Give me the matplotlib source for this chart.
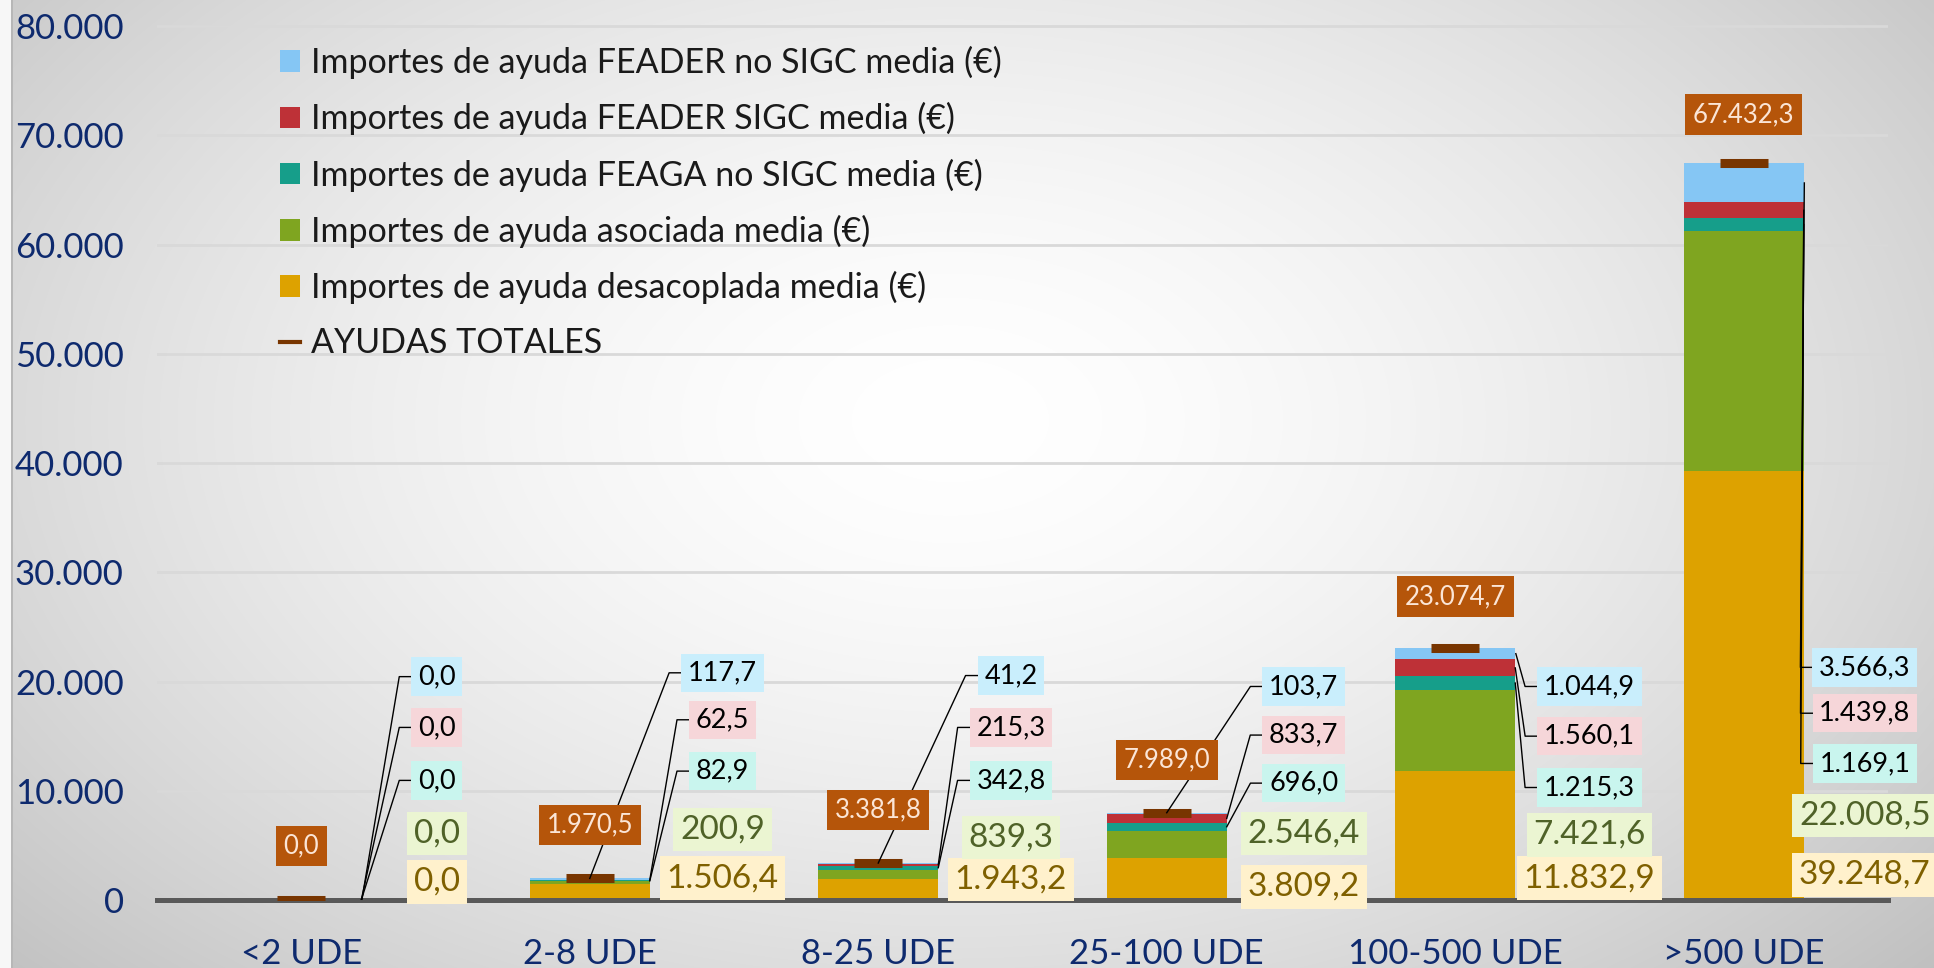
import numpy as np
import matplotlib.pyplot as plt
from matplotlib.patches import Patch
from matplotlib.lines import Line2D

plt.rcParams['font.family'] = ['Lato', 'DejaVu Sans']

categorias = ['<2 UDE', '2-8 UDE', '8-25 UDE', '25-100 UDE', '100-500 UDE', '>500 UDE']
desacoplada = [0.0, 1506.4, 1943.2, 3809.2, 11832.9, 39248.7]
asociada = [0.0, 200.9, 839.3, 2546.4, 7421.6, 22008.5]
feaga_no_sigc = [0.0, 82.9, 342.8, 696.0, 1215.3, 1169.1]
feader_sigc = [0.0, 62.5, 215.3, 833.7, 1560.1, 1439.8]
feader_no_sigc = [0.0, 117.7, 41.2, 103.7, 1044.9, 3566.3]
totales = [0.0, 1970.5, 3381.8, 7989.0, 23074.7, 67432.3]

# label placement (moved by hand in the original sheet)
lab_dx = [0.47, 0.46, 0.46, 0.475, 0.465, 0.42]
lab_y = {
    'no_sigc': [20450, 20800, 20550, 19550, 19550, 21300],
    'sigc': [15800, 16500, 15800, 15100, 15000, 17100],
    'feaga': [10950, 11800, 10950, 10700, 10300, 12500],
    'asoc': [6100, 6450, 5750, 6100, 5950, 7750],
    'desac': [1650, 2000, 1900, 1200, 2000, 2300],
}
tot_y = [4950, 6850, 8250, 12800, 27800, 71900]
blue_anchor_dx = [0.21, 0.0, 0.0, 0.0, 0.21, 0.21]

W, H = 1934, 968
BAR_W = 0.416


def es(v):
    s = "{:,.1f}".format(v)
    return s.replace(',', 'X').replace('.', ',').replace('X', '.')


fig = plt.figure(figsize=(W / 100, H / 100), dpi=100)

# background gradient
bg = fig.add_axes([0, 0, 1, 1], zorder=0)
yy, xx = np.mgrid[0:H, 0:W]
r = np.sqrt(((xx - 950) / 1150.0) ** 2 + ((yy - 420) / 720.0) ** 2)
g = 1 - 0.2 * np.clip(r, 0, 1.3) ** 1.6
g[:, :11] = 0.97
g[:, 11:13] = 0.72
bg.imshow(np.dstack([g, g, g]), aspect='auto', extent=[0, 1, 0, 1])
bg.axis('off')

ax = fig.add_axes([157 / W, 68 / H, (1888 - 157) / W, 900 / H], zorder=1)
ax.patch.set_alpha(0)

x = np.arange(len(categorias))
series = [
    ('desac', 'Importes de ayuda desacoplada media (€)', desacoplada, '#DDA200', '#FFF1CC', '#7F6000', 24, 0.2),
    ('asoc', 'Importes de ayuda asociada media (€)', asociada, '#7FA520', '#EBF5D2', '#4F6228', 24, 0.2),
    ('feaga', 'Importes de ayuda FEAGA no SIGC media (€)', feaga_no_sigc, '#169E8A', '#C9F5EE', '#000000', 19.5, 0.25),
    ('sigc', 'Importes de ayuda FEADER SIGC media (€)', feader_sigc, '#BE3137', '#F6D6D9', '#000000', 19.5, 0.25),
    ('no_sigc', 'Importes de ayuda FEADER no SIGC media (€)', feader_no_sigc, '#85C6F4', '#C9EEFC', '#000000', 19.5, 0.25),
]

bottom = np.zeros(len(x))
mids = {}
for key, name, vals, col, bcol, tcol, fs, pad in series:
    vals = np.array(vals)
    ax.bar(x, vals, BAR_W, bottom=bottom, color=col, linewidth=0, zorder=2)
    mids[key] = bottom + vals / 2
    bottom = bottom + vals

ax.plot(x, totales, linestyle='none', marker='_', ms=34, mew=6.5, color='#783500', zorder=4)

labels = []
for key, name, vals, col, bcol, tcol, fs, pad in series:
    for i, v in enumerate(vals):
        t = ax.text(x[i] + lab_dx[i], lab_y[key][i], es(v), ha='center', va='center',
                    fontsize=fs, color=tcol, zorder=6,
                    bbox=dict(boxstyle='square,pad=%s' % pad, fc=bcol, ec='none'))
        if key in ('no_sigc', 'sigc', 'feaga'):
            if key == 'no_sigc':
                ax0 = x[i] + blue_anchor_dx[i]
                ay0 = mids[key][i] if blue_anchor_dx[i] > 0 else totales[i]
            else:
                ax0 = x[i] + BAR_W / 2
                ay0 = mids[key][i]
            labels.append((t, ax0, ay0))

for i, v in enumerate(totales):
    ax.text(x[i], tot_y[i], es(v), ha='center', va='center', fontsize=18.5,
            color='#FBE5D6', zorder=7,
            bbox=dict(boxstyle='square,pad=0.3', fc='#B5550A', ec='none'))

ax.set_xlim(-0.5, 5.5)
ax.set_ylim(0, 82400)
ax.set_yticks(np.arange(0, 80001, 10000))
ax.set_yticklabels([es(v)[:-2] if v else '0' for v in np.arange(0, 80001, 10000)])
ax.set_xticks(x)
ax.set_xticklabels(categorias)
ax.tick_params(axis='both', length=0, labelsize=25, labelcolor='#0E2A6E')
ax.tick_params(axis='y', pad=24)
ax.tick_params(axis='x', pad=27)
ax.yaxis.grid(True, color='#D9D9D9', linewidth=2, zorder=0)
ax.set_axisbelow(True)
for s in ['top', 'right', 'left']:
    ax.spines[s].set_visible(False)
ax.spines['bottom'].set_color('#595959')
ax.spines['bottom'].set_linewidth(3.6)
ax.spines['bottom'].set_zorder(3)

# leader lines from the bars to the moved labels
fig.canvas.draw()
rend = fig.canvas.get_renderer()
inv = ax.transData.inverted()
for t, x0, y0 in labels:
    bb = t.get_bbox_patch().get_window_extent(rend)
    cy = (bb.y0 + bb.y1) / 2
    (ex, ey) = inv.transform((bb.x0 - 12, cy))
    (lx, ly) = inv.transform((bb.x0, cy))
    ax.plot([x0, ex, lx], [y0, ey, ly], color='black', linewidth=1, zorder=5)

handles = [Patch(fc=s[3], ec='none') for s in series[::-1]]
names = [s[1] for s in series[::-1]]
handles.append(Line2D([], [], color='#783500', linewidth=3))
names.append('AYUDAS TOTALES')
leg = ax.legend(handles, names, loc='upper left', bbox_to_anchor=(280 / W, 1 - 46 / H),
                bbox_transform=fig.transFigure, frameon=False, fontsize=24.5,
                handlelength=0.6, handleheight=0.6, handletextpad=0.3,
                labelspacing=0.68, borderpad=0, borderaxespad=0)
for txt in leg.get_texts():
    txt.set_color('#1A1A1A')

fig.savefig('out.png', dpi=100)
